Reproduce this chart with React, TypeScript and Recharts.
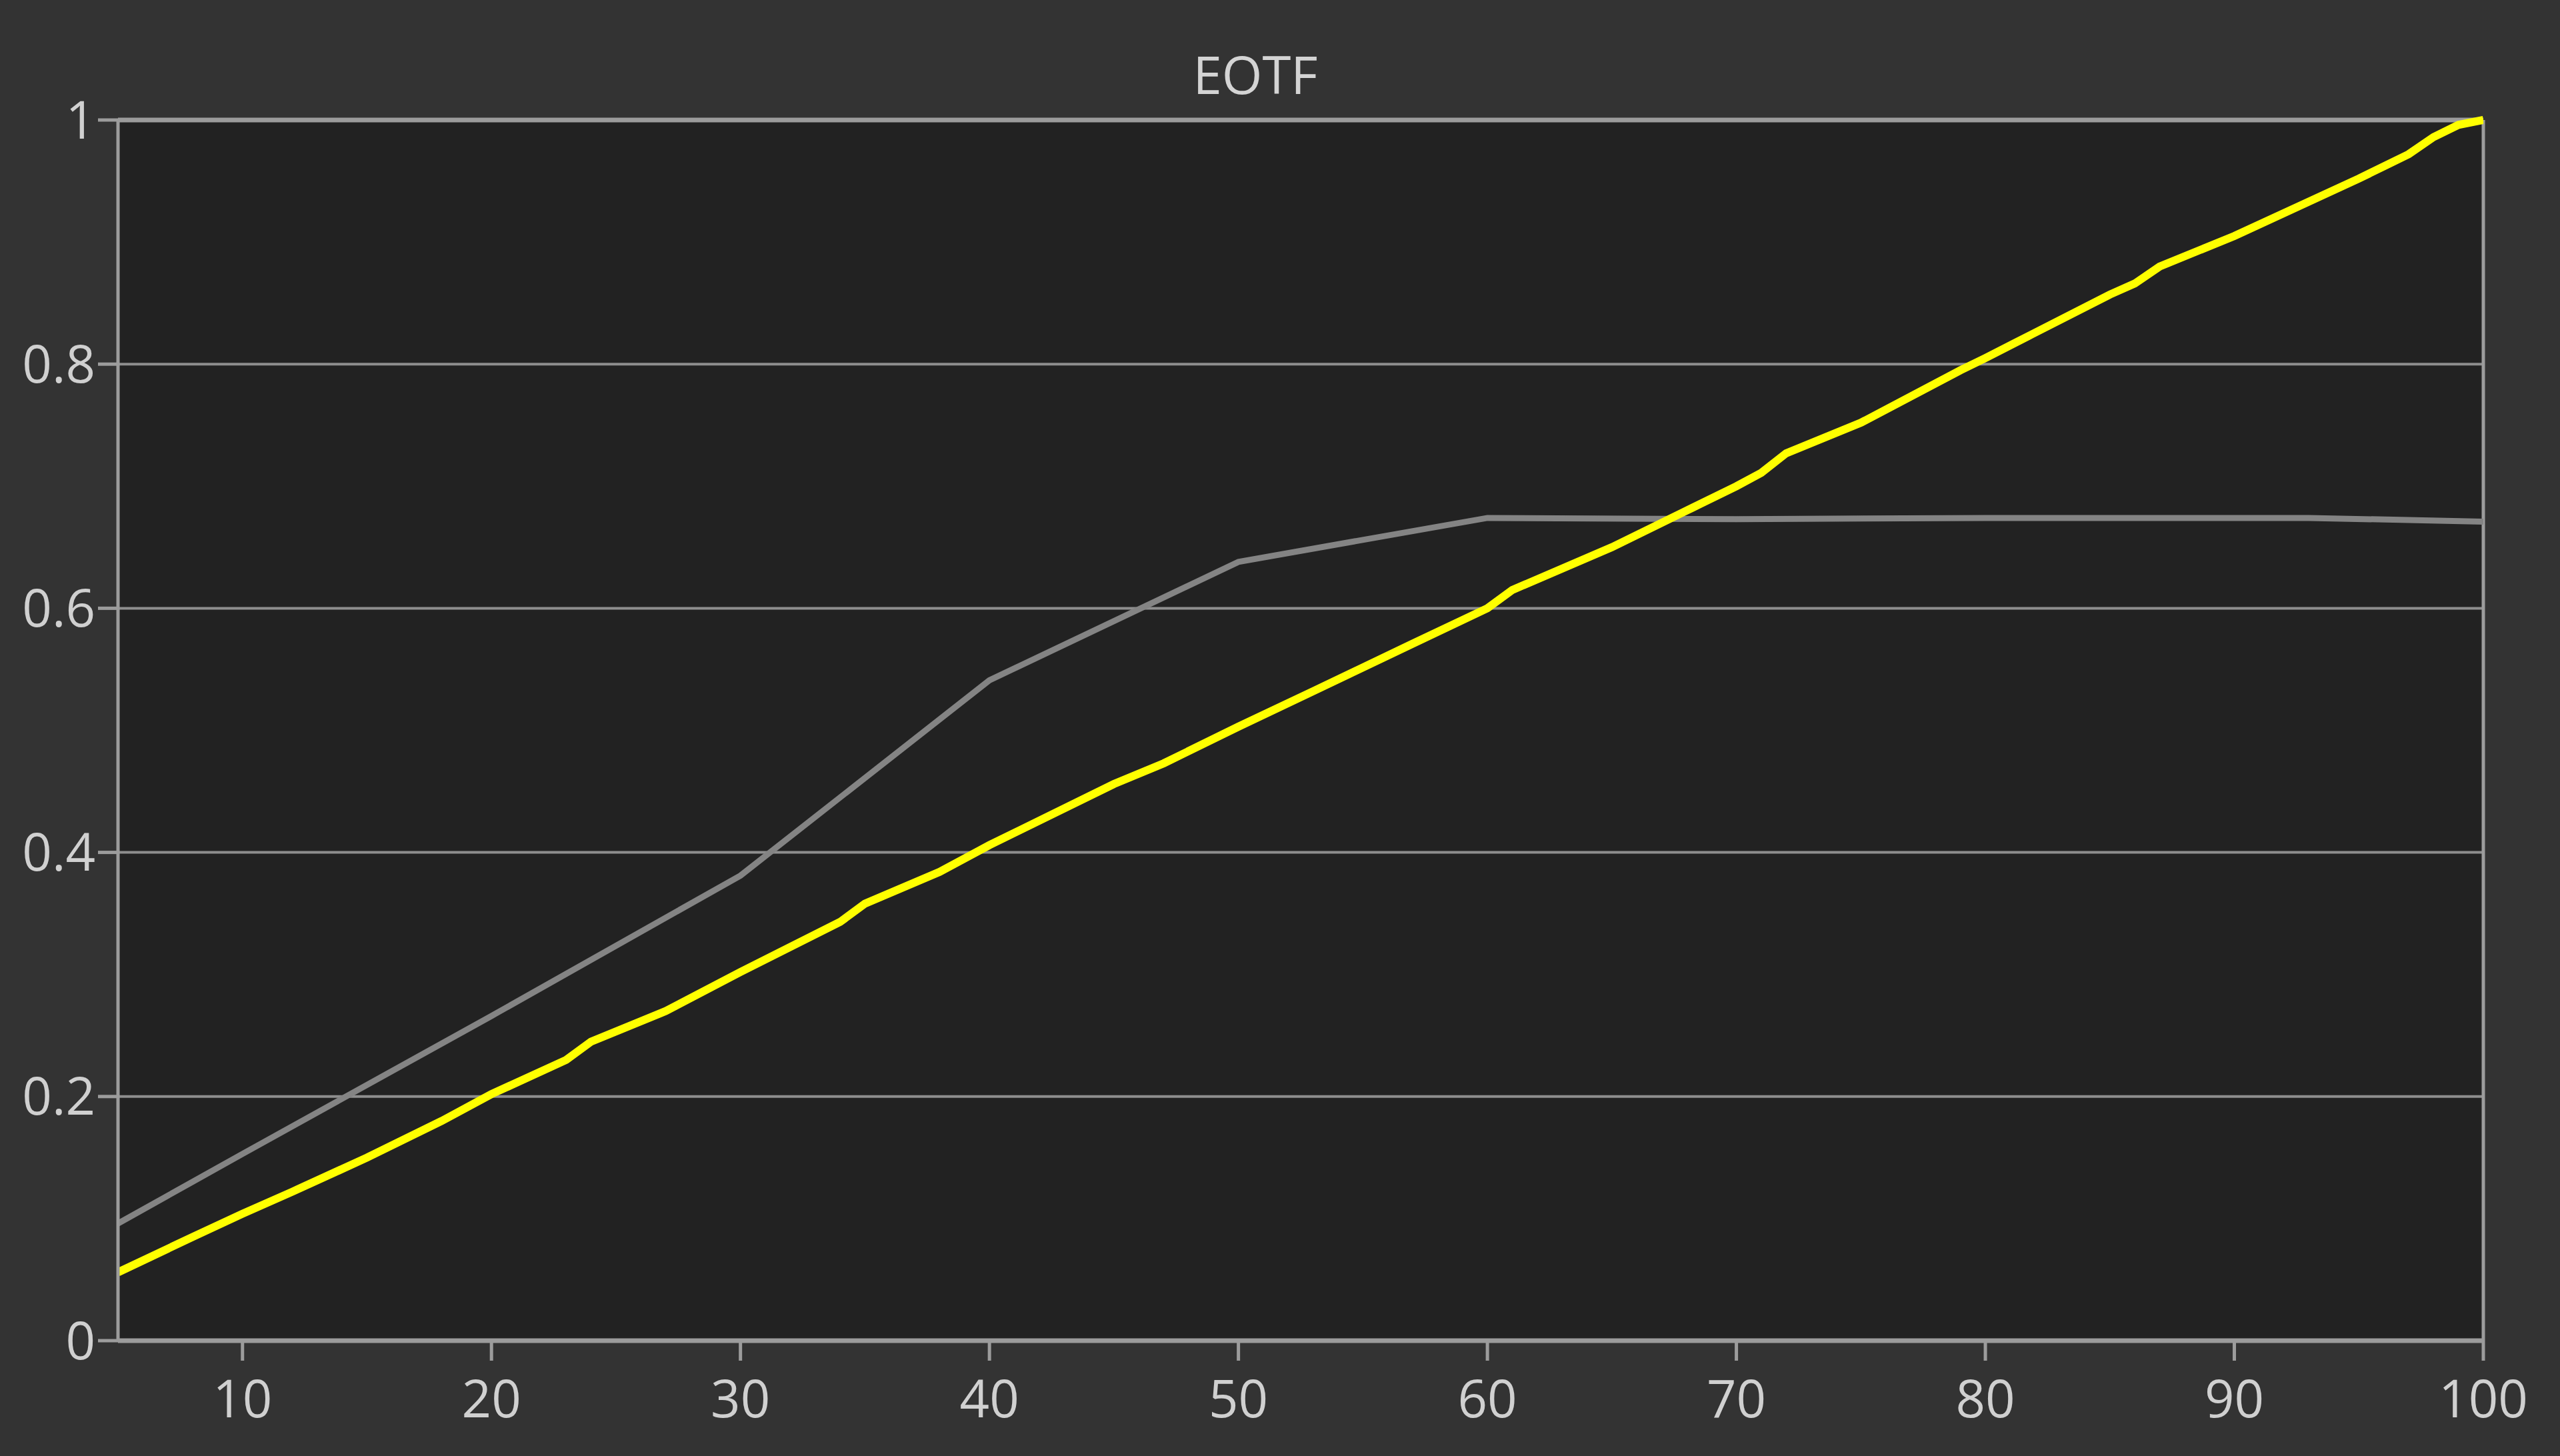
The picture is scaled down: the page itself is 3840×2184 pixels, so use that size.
import { LineChart, Line, XAxis, YAxis, CartesianGrid, ReferenceLine } from "recharts";

const title = "EOTF";

// measured (gray) curve
const grayX = [5, 10, 20, 30, 40, 50, 60, 70, 80, 90, 93, 100];
const grayY = [0.096, 0.153, 0.266, 0.381, 0.541, 0.638, 0.674, 0.673, 0.674, 0.674, 0.674, 0.671];

// target (yellow) curve
const yellowX = [
    5, 8, 10, 12, 15, 18, 20, 23, 24, 27, 30, 34, 35, 38, 40, 45, 47, 50, 53, 57,
    60, 61, 65, 68, 70, 71, 72, 75, 79, 80, 85, 86, 87, 90, 95, 97, 98, 99, 100,
];
const yellowY = [
    0.056, 0.085, 0.104, 0.122, 0.15, 0.18, 0.202, 0.23, 0.245, 0.27, 0.302, 0.343,
    0.358, 0.384, 0.406, 0.456, 0.473, 0.503, 0.532, 0.571, 0.6, 0.615, 0.65, 0.68,
    0.7, 0.711, 0.727, 0.752, 0.795, 0.805, 0.857, 0.866, 0.88, 0.905, 0.952, 0.972,
    0.986, 0.996, 1.0,
];

const xTicks = [10, 20, 30, 40, 50, 60, 70, 80, 90, 100];
const yTicks = [0, 0.2, 0.4, 0.6, 0.8, 1];

const grayData = grayX.map((x, i) => ({ x, v: grayY[i] }));
const yellowData = yellowX.map((x, i) => ({ x, v: yellowY[i] }));

const FONT = "'Open Sans', 'Noto Sans', sans-serif";
const tickStyle = { fill: "#d0d0d0", fontSize: 78, fontFamily: FONT };
const frame = "#9c9c9c";

export default function App() {
    return (
        <div
            style={{
                position: "fixed",
                left: 0,
                top: 0,
                width: 3840,
                height: 2184,
                background: "#333333",
                fontFamily: FONT,
            }}
        >
            <div
                style={{
                    position: "absolute",
                    left: 1883 - 300,
                    width: 600,
                    top: 71,
                    textAlign: "center",
                    fontSize: 78,
                    lineHeight: "80px",
                    color: "#d4d4d4",
                }}
            >
                {title}
            </div>
            <LineChart
                width={3840}
                height={2184}
                margin={{ top: 180, right: 115, bottom: 53, left: 0 }}
            >
                <CartesianGrid
                    vertical={false}
                    stroke="#8e8e8e"
                    strokeWidth={4}
                    fill="#222222"
                    fillOpacity={1}
                />
                <XAxis
                    type="number"
                    dataKey="x"
                    domain={[5, 100]}
                    ticks={xTicks}
                    allowDataOverflow
                    height={120}
                    axisLine={{ stroke: frame, strokeWidth: 7 }}
                    tickLine={{ stroke: frame, strokeWidth: 5 }}
                    tickSize={30}
                    tickMargin={30}
                    tick={tickStyle}
                    interval={0}
                />
                <YAxis
                    type="number"
                    domain={[0, 1]}
                    ticks={yTicks}
                    width={177}
                    axisLine={{ stroke: frame, strokeWidth: 5 }}
                    tickLine={{ stroke: frame, strokeWidth: 5 }}
                    tickSize={30}
                    tickMargin={4}
                    tick={tickStyle}
                    interval={0}
                    tickFormatter={(v: number) => String(v)}
                />
                <ReferenceLine y={1} stroke={frame} strokeWidth={7} />
                <ReferenceLine x={100} stroke={frame} strokeWidth={5} />
                <Line
                    data={grayData}
                    dataKey="v"
                    type="linear"
                    stroke="#848484"
                    strokeWidth={9}
                    dot={false}
                    isAnimationActive={false}
                />
                <Line
                    data={yellowData}
                    dataKey="v"
                    type="linear"
                    stroke="#ffff00"
                    strokeWidth={12}
                    dot={false}
                    isAnimationActive={false}
                />
            </LineChart>
        </div>
    );
}
